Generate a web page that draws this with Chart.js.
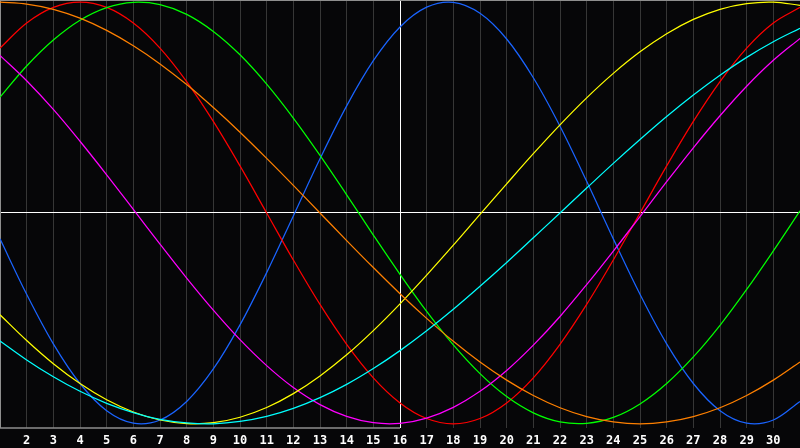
<!DOCTYPE html>
<html>
<head>
<meta charset="utf-8">
<script src="https://cdn.jsdelivr.net/npm/chart.js@4.4.0/dist/chart.umd.min.js"></script>
<style>
  html, body { margin: 0; padding: 0; background: #060608; }
  #wrap { width: 800px; height: 448px; position: relative; }
</style>
</head>
<body>
<div id="wrap"><canvas id="bio"></canvas></div>
<script>
// days of the month shown on the x axis
const days = [1, 2, 3, 4, 5, 6, 7, 8, 9, 10, 11, 12, 13, 14, 15, 16,
              17, 18, 19, 20, 21, 22, 23, 24, 25, 26, 27, 28, 29, 30, 31];

// cycle values per day, -100..100
const physical     = [-12.3, -38.6, -62.1, -80.9, -93.8, -99.7, -98.2, -89.4, -74.0, -53.1, -28.3, -1.4, 25.7, 50.8, 72.2, 88.2,
                       97.6, 99.9, 94.7, 82.5, 64.1, 41.1, 15.0, -12.3, -38.6, -62.1, -80.9, -93.8, -99.7, -98.2, -89.4];
const emotional    = [78.2, 90.1, 97.5, 100, 97.5, 90.1, 78.2, 62.3, 43.4, 22.3, 0, -22.3, -43.4, -62.3, -78.2, -90.1,
                      -97.5, -100, -97.5, -90.1, -78.2, -62.3, -43.4, -22.3, 0, 22.3, 43.4, 62.3, 78.2, 90.1, 97.5];
const intellectual = [54.9, 69.7, 82.0, 91.4, 97.4, 99.9, 98.8, 94.2, 86.1, 75.0, 61.1, 45.0, 27.3, 8.6, -10.5, -29.1,
                      -46.7, -62.6, -76.2, -87.1, -94.8, -99.1, -99.8, -97.0, -90.6, -80.9, -68.3, -53.3, -36.3, -18.0, 1.0];
const intuitive    = [74.7, 62.7, 49.1, 34.0, 18.1, 1.7, -14.8, -30.9, -46.1, -60.1, -72.4, -82.8, -90.9, -96.5, -99.5, -99.8,
                      -97.3, -92.2, -84.6, -74.7, -62.7, -49.1, -34.0, -18.1, -1.7, 14.8, 30.9, 46.1, 60.1, 72.4, 82.8];
const aesthetic    = [-48.3, -60.5, -71.5, -80.9, -88.6, -94.4, -98.2, -99.9, -99.5, -96.9, -92.3, -85.7, -77.3, -67.3, -55.8, -43.1,
                      -29.5, -15.3, -0.7, 13.8, 28.1, 41.8, 54.6, 66.2, 76.4, 85.0, 91.8, 96.6, 99.3, 100.0, 98.5];
const awareness    = [100, 99.1, 96.6, 92.4, 86.6, 79.3, 70.7, 60.9, 50.0, 38.3, 25.9, 13.1, 0, -13.1, -25.9, -38.3,
                      -50.0, -60.9, -70.7, -79.3, -86.6, -92.4, -96.6, -99.1, -100, -99.1, -96.6, -92.4, -86.6, -79.3, -70.7];
const spiritual    = [-60.7, -69.7, -77.7, -84.6, -90.3, -94.7, -97.9, -99.6, -100.0, -98.9, -96.5, -92.7, -87.6, -81.3, -73.8, -65.3,
                      -55.9, -45.7, -34.8, -23.5, -11.8, 0, 11.8, 23.5, 34.8, 45.7, 55.9, 65.3, 73.8, 81.2, 87.6];

const today = 16;

// gray frame: top edge, left edge and the axis line under the past days
const frame = {
  id: 'frame',
  beforeDatasetsDraw(chart) {
    const {ctx, chartArea: a, scales: {x}} = chart;
    ctx.save();
    ctx.strokeStyle = '#8e8e8e';
    ctx.lineWidth = 1;
    ctx.beginPath();
    ctx.moveTo(a.left, a.top + 0.5);
    ctx.lineTo(a.right, a.top + 0.5);
    ctx.moveTo(a.left + 0.5, a.top);
    ctx.lineTo(a.left + 0.5, a.bottom);
    ctx.stroke();
    ctx.lineWidth = 1.5;
    ctx.beginPath();
    ctx.moveTo(a.left, a.bottom);
    ctx.lineTo(x.getPixelForValue(days.indexOf(today)), a.bottom);
    ctx.stroke();
    ctx.restore();
  }
};

function line(data, color) {
  return {
    data: data,
    borderColor: color,
    borderWidth: 1.25,
    pointRadius: 0,
    tension: 0.35,
    fill: false
  };
}

new Chart(document.getElementById('bio'), {
  type: 'line',
  data: {
    labels: days,
    datasets: [
      line(spiritual, '#00ffff'),
      line(awareness, '#ff8000'),
      line(aesthetic, '#ffff00'),
      line(intuitive, '#ff00ff'),
      line(intellectual, '#00ff00'),
      line(emotional, '#ff0000'),
      line(physical, '#1a64ff')
    ]
  },
  options: {
    responsive: true,
    maintainAspectRatio: false,
    animation: false,
    layout: { padding: 0 },
    plugins: {
      legend: { display: false },
      tooltip: { enabled: false }
    },
    scales: {
      x: {
        offset: false,
        border: { display: false },
        grid: {
          drawTicks: false,
          lineWidth: 1,
          color: c => days[c.index] === today ? '#ffffff' : '#363636'
        },
        ticks: {
          autoSkip: false,
          maxRotation: 0,
          padding: 6,
          color: '#ffffff',
          font: { family: 'DejaVu Sans Mono', weight: 'bold', size: 12 },
          callback: (v, i) => (i === 0 || i === days.length - 1) ? '' : days[i]
        },
        afterFit: s => { s.height = 20; s.paddingLeft = 0; s.paddingRight = 0; }
      },
      y: {
        min: -102,
        max: 101,
        border: { display: false },
        grid: {
          drawTicks: false,
          lineWidth: 1,
          color: c => c.tick.value === 0 ? '#ffffff' : 'rgba(0,0,0,0)'
        },
        ticks: { display: false, stepSize: 50 },
        afterFit: s => { s.width = 0; }
      }
    }
  },
  plugins: [frame]
});
</script>
</body>
</html>
